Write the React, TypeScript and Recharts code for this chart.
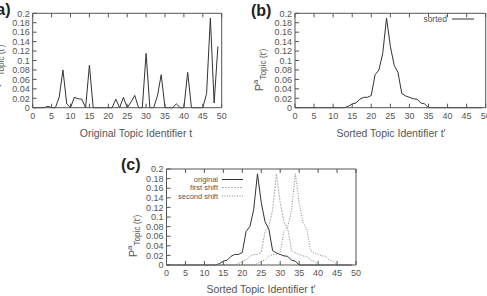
import React from "react";
import { LineChart, Line, XAxis, YAxis } from "recharts";

// topic ids on the x axis
const TOPICS = Array.from({ length: 50 }, (_, i) => i);
const X_TICKS = [0, 5, 10, 15, 20, 25, 30, 35, 40, 45, 50];
const Y_TICKS = [0, 0.02, 0.04, 0.06, 0.08, 0.1, 0.12, 0.14, 0.16, 0.18, 0.2];

// (a) P over the original topic ids
const ORIGINAL_P = [
  0, 0, 0, 0, 0.003, 0, 0, 0.022, 0.08, 0.008,
  0, 0.022, 0.019, 0.018, 0, 0.09, 0, 0, 0, 0,
  0, 0, 0.018, 0, 0.022, 0, 0.012, 0.026, 0, 0,
  0.115, 0, 0, 0.025, 0.07, 0, 0, 0, 0.008, 0,
  0, 0.075, 0, 0, 0, 0, 0.03, 0.19, 0.01, 0.13,
];

// (b) sorted, and (c) its shifted copies
const SORTED_P = [
  0, 0, 0, 0, 0, 0, 0, 0, 0, 0,
  0, 0, 0, 0, 0.003, 0.008, 0.01, 0.018, 0.022, 0.022,
  0.026, 0.07, 0.08, 0.115, 0.19, 0.13, 0.09, 0.075, 0.03, 0.025,
  0.022, 0.019, 0.018, 0.01, 0.008, 0, 0, 0, 0, 0,
  0, 0, 0, 0, 0, 0, 0, 0, 0, 0,
];
const FIRST_SHIFT_P = [
  0, 0, 0, 0, 0, 0, 0, 0, 0, 0,
  0, 0, 0, 0, 0, 0, 0, 0, 0, 0.003,
  0.008, 0.01, 0.018, 0.022, 0.022, 0.026, 0.07, 0.08, 0.115, 0.19,
  0.13, 0.09, 0.075, 0.03, 0.025, 0.022, 0.019, 0.018, 0.01, 0.008,
  0, 0, 0, 0, 0, 0, 0, 0, 0, 0,
];
const SECOND_SHIFT_P = [
  0, 0, 0, 0, 0, 0, 0, 0, 0, 0,
  0, 0, 0, 0, 0, 0, 0, 0, 0, 0,
  0, 0, 0, 0, 0.003, 0.008, 0.01, 0.018, 0.022, 0.022,
  0.026, 0.07, 0.08, 0.115, 0.19, 0.13, 0.09, 0.075, 0.03, 0.025,
  0.022, 0.019, 0.018, 0.01, 0.008, 0, 0, 0, 0, 0,
];

const FONT = '"Liberation Sans", Arial, Helvetica, sans-serif';
const AXIS = "#555";
const TEXT = "#555";
const TICK_LEN = 4;

const rowsA = TOPICS.map((t, i) => ({ t, p: ORIGINAL_P[i] }));
const rowsB = TOPICS.map((t, i) => ({ t, p: SORTED_P[i] }));
const rowsC = TOPICS.map((t, i) => ({
  t,
  orig: SORTED_P[i],
  first: FIRST_SHIFT_P[i],
  second: SECOND_SHIFT_P[i],
}));

const bottomTick = (fs: number, dy: number) => ({ x, y, payload }: any) => (
  <g>
    <line x1={x} x2={x} y1={y} y2={y - TICK_LEN} stroke={AXIS} />
    <text x={x} y={y + dy} textAnchor="middle" fontSize={fs} fill={TEXT} fontFamily={FONT}>
      {payload.value}
    </text>
  </g>
);
const leftTick = (fs: number) => ({ x, y, payload }: any) => (
  <g>
    <line x1={x} x2={x + TICK_LEN} y1={y} y2={y} stroke={AXIS} />
    <text x={x - 3} y={y + fs * 0.36} textAnchor="end" fontSize={fs} fill={TEXT} fontFamily={FONT}>
      {payload.value}
    </text>
  </g>
);
const topTick = ({ x, y }: any) => (
  <line x1={x} x2={x} y1={y} y2={y + TICK_LEN} stroke={AXIS} />
);
const rightTick = ({ x, y }: any) => (
  <line x1={x} x2={x - TICK_LEN} y1={y} y2={y} stroke={AXIS} />
);

type Box = { top: number; left: number; right: number; bottom: number };

function axes(box: Box, fs: number, dy: number) {
  return [
    <XAxis
      key="xb"
      dataKey="t"
      type="number"
      domain={[0, 50]}
      ticks={X_TICKS}
      interval={0}
      height={box.bottom}
      tickSize={0}
      tickMargin={0}
      stroke={AXIS}
      tick={bottomTick(fs, dy)}
    />,
    <XAxis
      key="xt"
      xAxisId="top"
      orientation="top"
      dataKey="t"
      type="number"
      domain={[0, 50]}
      ticks={X_TICKS}
      interval={0}
      height={box.top}
      tickSize={0}
      tickMargin={0}
      stroke={AXIS}
      tick={topTick}
    />,
    <YAxis
      key="yl"
      type="number"
      domain={[0, 0.2]}
      ticks={Y_TICKS}
      interval={0}
      width={box.left}
      tickSize={0}
      tickMargin={0}
      stroke={AXIS}
      tick={leftTick(fs)}
    />,
    <YAxis
      key="yr"
      yAxisId="right"
      orientation="right"
      type="number"
      domain={[0, 0.2]}
      ticks={Y_TICKS}
      interval={0}
      width={box.right}
      tickSize={0}
      tickMargin={0}
      stroke={AXIS}
      tick={rightTick}
    />,
  ];
}

function YTitle({ x, y, size }: { x: number; y: number; size: number }) {
  return (
    <div
      style={{
        position: "absolute",
        left: x,
        top: y,
        transform: "translate(-50%, -50%) rotate(-90deg)",
        whiteSpace: "nowrap",
        fontSize: size,
        lineHeight: 1,
        color: TEXT,
      }}
    >
      P
      <span style={{ fontSize: size * 0.7, position: "relative", top: -size * 0.45 }}>a</span>
      <span style={{ fontSize: size * 0.75, position: "relative", top: size * 0.25 }}>Topic (t')</span>
    </div>
  );
}

function Title({ cx, cy, text, size }: { cx: number; cy: number; text: string; size: number }) {
  return (
    <div
      style={{
        position: "absolute",
        left: cx - 100,
        top: cy - size * 0.6,
        width: 200,
        textAlign: "center",
        fontSize: size,
        lineHeight: 1.2,
        color: TEXT,
        whiteSpace: "nowrap",
      }}
    >
      {text}
    </div>
  );
}

function PanelLabel({ x, y, text }: { x: number; y: number; text: string }) {
  return (
    <div
      style={{
        position: "absolute",
        left: x,
        top: y,
        fontSize: 16,
        fontWeight: "bold",
        lineHeight: 1,
        color: "#222",
      }}
    >
      {text}
    </div>
  );
}

const BOX_A: Box = { top: 13.3, left: 32.7, right: 23.3, bottom: 42.3 };
const BOX_B: Box = { top: 13.3, left: 50, right: 1.3, bottom: 42.3 };
const BOX_C: Box = { top: 19, left: 46.5, right: 14, bottom: 31 };
const NO_MARGIN = { top: 0, left: 0, right: 0, bottom: 0 };

export default function App() {
  return (
    <div
      style={{
        position: "absolute",
        left: 0,
        top: 0,
        width: 487,
        height: 296,
        overflow: "hidden",
        background: "#fff",
        fontFamily: FONT,
      }}
    >
      {/* (a) */}
      <div style={{ position: "absolute", left: 0, top: 0 }}>
        <LineChart width={245} height={150} data={rowsA} margin={NO_MARGIN}>
          {axes(BOX_A, 9, 11.5)}
          <Line dataKey="p" stroke="#333" strokeWidth={1} dot={false} isAnimationActive={false} />
        </LineChart>
      </div>
      <Title cx={136} cy={133} text="Original Topic Identifier t" size={10.5} />
      <YTitle x={-2} y={66} size={11} />
      <PanelLabel x={-9} y={2} text="(a)" />

      {/* (b) */}
      <div style={{ position: "absolute", left: 245, top: 0 }}>
        <LineChart width={242} height={150} data={rowsB} margin={NO_MARGIN}>
          {axes(BOX_B, 9, 11.5)}
          <Line dataKey="p" stroke="#333" strokeWidth={1} dot={false} isAnimationActive={false} />
        </LineChart>
      </div>
      <Title cx={391} cy={133} text="Sorted Topic Identifier t'" size={10.5} />
      <YTitle x={260} y={70} size={11} />
      <PanelLabel x={251} y={3} text="(b)" />

      {/* (c) */}
      <div style={{ position: "absolute", left: 120, top: 150 }}>
        <LineChart width={250} height={146} data={rowsC} margin={NO_MARGIN}>
          {axes(BOX_C, 9, 10.5)}
          <Line dataKey="orig" stroke="#333" strokeWidth={1} dot={false} isAnimationActive={false} />
          <Line
            dataKey="first"
            stroke="#b0b0b0"
            strokeWidth={1}
            strokeDasharray="2 1"
            dot={false}
            isAnimationActive={false}
          />
          <Line
            dataKey="second"
            stroke="#888"
            strokeWidth={1}
            strokeDasharray="1 1.5"
            dot={false}
            isAnimationActive={false}
          />
        </LineChart>
      </div>
      <Title cx={261} cy={289} text="Sorted Topic Identifier t'" size={10.5} />
      <YTitle x={134} y={236} size={11} />
      <PanelLabel x={121} y={157} text="(c)" />

      {/* legends */}
      <svg
        width={487}
        height={296}
        style={{ position: "absolute", left: 0, top: 0, pointerEvents: "none" }}
      >
        <g fontFamily={FONT} fill={TEXT}>
          <text x={447} y={22} textAnchor="end" fontSize={8.5}>sorted</text>
          <line x1={452} x2={474} y1={19} y2={19} stroke="#333" />

          <text x={218} y={182} textAnchor="end" fontSize={7.5}>original</text>
          <line x1={222} x2={243} y1={179.5} y2={179.5} stroke="#333" />
          <text x={218} y={190} textAnchor="end" fontSize={7.5}>first shift</text>
          <line x1={222} x2={243} y1={187.5} y2={187.5} stroke="#b0b0b0" strokeDasharray="2 1" />
          <text x={218} y={199} textAnchor="end" fontSize={7.5}>second shift</text>
          <line x1={222} x2={243} y1={196} y2={196} stroke="#888" strokeDasharray="1 1.5" />
        </g>
      </svg>
    </div>
  );
}
